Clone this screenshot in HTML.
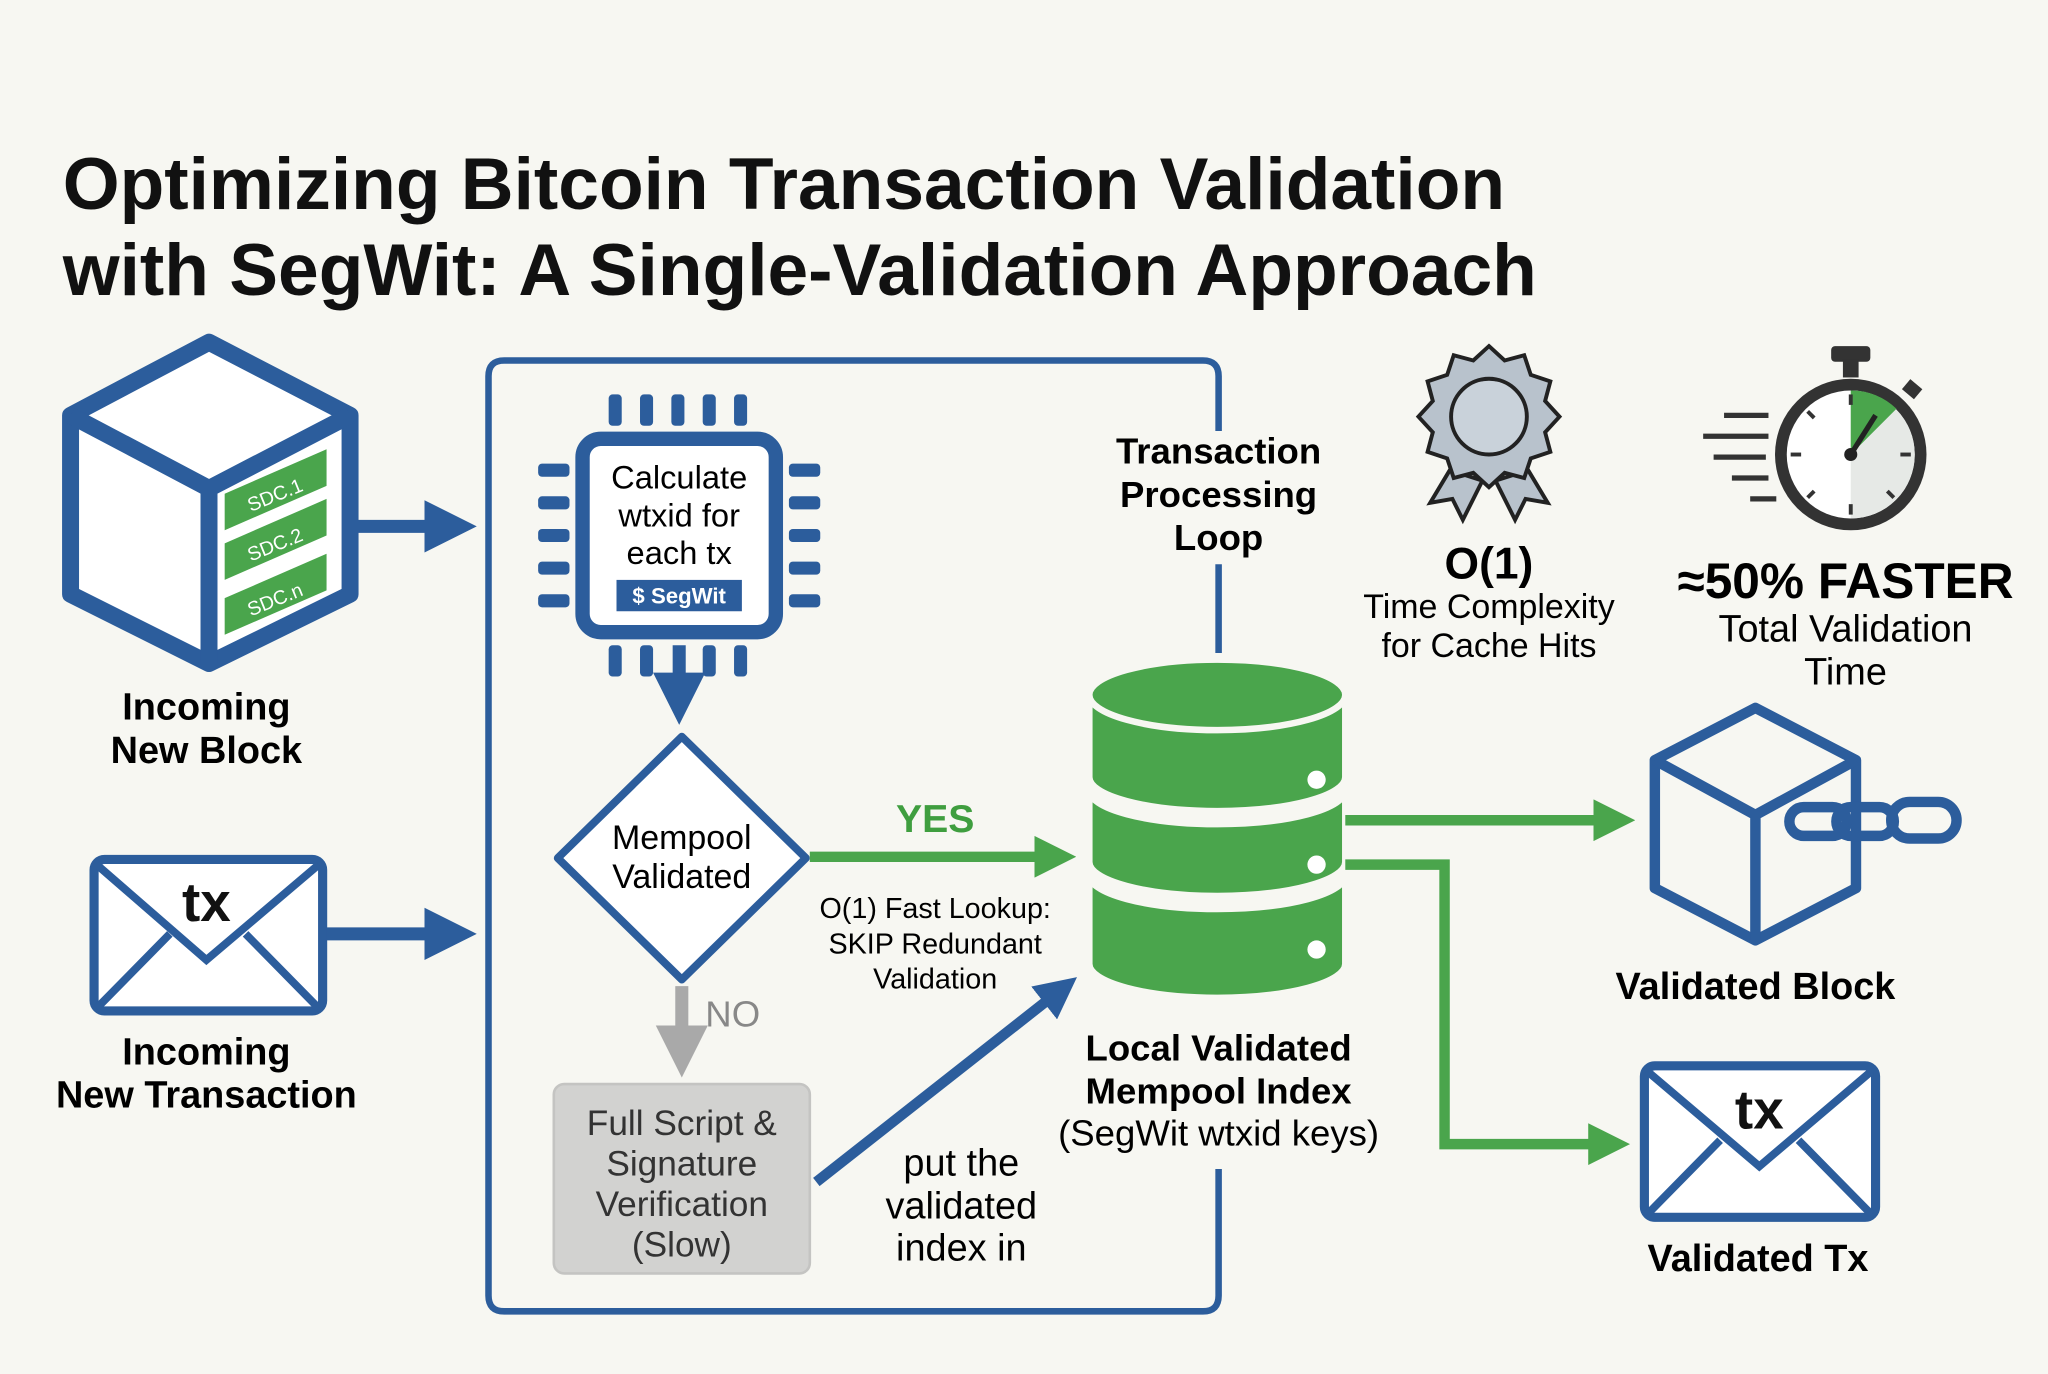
<!DOCTYPE html>
<html><head><meta charset="utf-8"><style>
html,body{margin:0;padding:0;background:#f7f7f2;}
svg{display:block;}
text{font-family:"Liberation Sans",sans-serif;}
</style></head><body>
<svg width="2048" height="1374" viewBox="0 0 1568 1052" xmlns="http://www.w3.org/2000/svg">
<defs>
<marker id="ab" markerWidth="4" markerHeight="4" refX="2" refY="2" orient="auto"><path d="M0,0 L4,2 L0,4 z" fill="#2c5d9c"/></marker>
<marker id="ag" markerWidth="4" markerHeight="4" refX="2" refY="2" orient="auto"><path d="M0,0 L4,2 L0,4 z" fill="#4aa54c"/></marker>
<marker id="ay" markerWidth="4" markerHeight="4" refX="2" refY="2" orient="auto"><path d="M0,0 L4,2 L0,4 z" fill="#a9a9a9"/></marker>
</defs>
<rect width="1568" height="1052" fill="#f7f7f2"/>
<text x="48" y="160" font-size="56" font-weight="bold" fill="#111">Optimizing Bitcoin Transaction Validation</text>
<text x="48" y="226" font-size="56" font-weight="bold" fill="#111">with SegWit: A Single-Validation Approach</text>

<g stroke="#2c5d9c" stroke-width="13" stroke-linejoin="round" fill="#fff">
<path d="M160,262 L268,318 L268,455 L160,508 L54,455 L54,318 Z"/>
<path d="M54,318 L160,374 L268,318 M160,374 L160,508" fill="none"/>
</g>
<g fill="#4aa54c"><path d="M172,378 L250,344 L250,372 L172,406Z"/><path d="M172,416 L250,382 L250,410 L172,444Z"/><path d="M172,458 L250,424 L250,452 L172,486Z"/></g>
<g fill="#fff" font-size="15" font-family="Liberation Serif"><text x="192" y="392" transform="rotate(-22 192 392)">SDC.1</text><text x="192" y="430" transform="rotate(-22 192 430)">SDC.2</text><text x="192" y="472" transform="rotate(-22 192 472)">SDC.n</text></g>
<line x1="272" y1="403" x2="345" y2="403" stroke="#2c5d9c" stroke-width="10" marker-end="url(#ab)"/>
<text x="158" y="551" font-size="29" font-weight="bold" text-anchor="middle">Incoming</text>
<text x="158" y="584" font-size="29" font-weight="bold" text-anchor="middle">New Block</text>

<rect x="72" y="658" width="175" height="116" rx="8" fill="#fff" stroke="#2c5d9c" stroke-width="7"/>
<path d="M74,662 L158,735 L244,662 M74,772 L130,715 M244,772 L188,715" fill="none" stroke="#2c5d9c" stroke-width="6"/>
<text x="158" y="705" font-size="42" font-weight="bold" text-anchor="middle" fill="#111">tx</text>
<line x1="250" y1="715" x2="345" y2="715" stroke="#2c5d9c" stroke-width="10" marker-end="url(#ab)"/>
<text x="158" y="815" font-size="29" font-weight="bold" text-anchor="middle">Incoming</text>
<text x="158" y="848" font-size="29" font-weight="bold" text-anchor="middle">New Transaction</text>

<path d="M933,330 L933,288 Q933,276 921,276 L386,276 Q374,276 374,288 L374,992 Q374,1004 386,1004 L921,1004 Q933,1004 933,992 L933,895 M933,432 L933,500" fill="none" stroke="#2c5d9c" stroke-width="5"/>
<text x="933" y="355" font-size="28" font-weight="bold" text-anchor="middle">Transaction</text>
<text x="933" y="388" font-size="28" font-weight="bold" text-anchor="middle">Processing</text>
<text x="933" y="421" font-size="28" font-weight="bold" text-anchor="middle">Loop</text>

<g fill="#2c5d9c">
<rect x="466" y="302" width="10" height="24" rx="3"/><rect x="490" y="302" width="10" height="24" rx="3"/><rect x="514" y="302" width="10" height="24" rx="3"/><rect x="538" y="302" width="10" height="24" rx="3"/><rect x="562" y="302" width="10" height="24" rx="3"/>
<rect x="466" y="494" width="10" height="24" rx="3"/><rect x="490" y="494" width="10" height="24" rx="3"/><rect x="538" y="494" width="10" height="24" rx="3"/><rect x="562" y="494" width="10" height="24" rx="3"/>
<rect x="412" y="355" width="24" height="10" rx="3"/><rect x="412" y="380" width="24" height="10" rx="3"/><rect x="412" y="405" width="24" height="10" rx="3"/><rect x="412" y="430" width="24" height="10" rx="3"/><rect x="412" y="455" width="24" height="10" rx="3"/>
<rect x="604" y="355" width="24" height="10" rx="3"/><rect x="604" y="380" width="24" height="10" rx="3"/><rect x="604" y="405" width="24" height="10" rx="3"/><rect x="604" y="430" width="24" height="10" rx="3"/><rect x="604" y="455" width="24" height="10" rx="3"/>
</g>
<rect x="446" y="336" width="148" height="148" rx="14" fill="#fff" stroke="#2c5d9c" stroke-width="11"/>
<text x="520" y="374" font-size="25" text-anchor="middle">Calculate</text>
<text x="520" y="403" font-size="25" text-anchor="middle">wtxid for</text>
<text x="520" y="432" font-size="25" text-anchor="middle">each tx</text>
<rect x="472" y="444" width="96" height="24" fill="#2c5d9c"/>
<text x="520" y="462" font-size="17" font-weight="bold" fill="#fff" text-anchor="middle">$ SegWit</text>
<line x1="520" y1="494" x2="520" y2="535" stroke="#2c5d9c" stroke-width="10" marker-end="url(#ab)"/>

<path d="M522,564 L617,657 L522,750 L427,657 Z" fill="#fff" stroke="#2c5d9c" stroke-width="6" stroke-linejoin="round"/>
<text x="522" y="650" font-size="26" text-anchor="middle">Mempool</text>
<text x="522" y="680" font-size="26" text-anchor="middle">Validated</text>
<line x1="620" y1="656" x2="808" y2="656" stroke="#4aa54c" stroke-width="8" marker-end="url(#ag)"/>
<text x="716" y="637" font-size="30" font-weight="bold" fill="#3f9e3f" text-anchor="middle">YES</text>
<text x="716" y="703" font-size="22" text-anchor="middle">O(1) Fast Lookup:</text>
<text x="716" y="730" font-size="22" text-anchor="middle">SKIP Redundant</text>
<text x="716" y="757" font-size="22" text-anchor="middle">Validation</text>
<line x1="522" y1="755" x2="522" y2="805" stroke="#a9a9a9" stroke-width="10" marker-end="url(#ay)"/>
<text x="540" y="786" font-size="28" fill="#888">NO</text>
<rect x="424" y="830" width="196" height="145" rx="8" fill="#d2d2d0" stroke="#c4c4c2" stroke-width="2"/>
<text x="522" y="869" font-size="27" fill="#333" text-anchor="middle">Full Script &amp;</text>
<text x="522" y="900" font-size="27" fill="#333" text-anchor="middle">Signature</text>
<text x="522" y="931" font-size="27" fill="#333" text-anchor="middle">Verification</text>
<text x="522" y="962" font-size="27" fill="#333" text-anchor="middle">(Slow)</text>
<line x1="625" y1="905" x2="812" y2="758" stroke="#2c5d9c" stroke-width="8" marker-end="url(#ab)"/>
<text x="736" y="900" font-size="29" text-anchor="middle">put the</text>
<text x="736" y="933" font-size="29" text-anchor="middle">validated</text>
<text x="736" y="965" font-size="29" text-anchor="middle">index in</text>

<g fill="#4aa54c" stroke="#f7f7f2" stroke-width="5">
<path d="M834,670 L834,738 A98,26 0 0 0 1030,738 L1030,670 A98,26 0 0 1 834,670Z"/>
<path d="M834,605 L834,660 A98,26 0 0 0 1030,660 L1030,605 A98,26 0 0 1 834,605Z"/>
<path d="M834,532 L834,595 A98,26 0 0 0 1030,595 L1030,532Z"/>
<ellipse cx="932" cy="532" rx="98" ry="27"/>
</g>
<circle cx="1008" cy="597" r="7" fill="#fff"/><circle cx="1008" cy="662" r="7" fill="#fff"/><circle cx="1008" cy="727" r="7" fill="#fff"/>
<text x="933" y="812" font-size="28" font-weight="bold" text-anchor="middle">Local Validated</text>
<text x="933" y="845" font-size="28" font-weight="bold" text-anchor="middle">Mempool Index</text>
<text x="933" y="877" font-size="28" text-anchor="middle">(SegWit wtxid keys)</text>

<path d="M1110,360 L1095,385 L1112,382 L1120,398 L1135,368Z M1170,360 L1185,385 L1168,382 L1160,398 L1145,368Z" fill="#b8c2cc" stroke="#222" stroke-width="3"/>
<path d="M1140,265 L1152,276 L1167,272 L1172,287 L1187,292 L1183,307 L1194,319 L1183,331 L1187,346 L1172,351 L1167,366 L1152,362 L1140,373 L1128,362 L1113,366 L1108,351 L1093,346 L1097,331 L1086,319 L1097,307 L1093,292 L1108,287 L1113,272 L1128,276Z" fill="#b8c2cc" stroke="#222" stroke-width="3"/>
<circle cx="1140" cy="319" r="29" fill="#c9d2da" stroke="#222" stroke-width="3"/>
<text x="1140" y="443" font-size="34" font-weight="bold" text-anchor="middle">O(1)</text>
<text x="1140" y="473" font-size="26" text-anchor="middle">Time Complexity</text>
<text x="1140" y="503" font-size="26" text-anchor="middle">for Cache Hits</text>

<rect x="1402" y="265" width="30" height="12" rx="3" fill="#333"/><rect x="1411" y="275" width="12" height="14" fill="#333"/>
<rect x="1458" y="293" width="12" height="10" fill="#333" transform="rotate(40 1464 298)"/>
<circle cx="1417" cy="348" r="58" fill="#333"/>
<circle cx="1417" cy="348" r="49" fill="#fff"/>
<path d="M1417,348 L1417,299 A49,49 0 0 1 1466,348 A49,49 0 0 1 1417,397Z" fill="#e6e9e6"/>
<path d="M1417,348 L1417,299 A49,49 0 0 1 1452,313 Z" fill="#4aa54c"/>
<g stroke="#333" stroke-width="3"><line x1="1417" y1="302" x2="1417" y2="310"/><line x1="1417" y1="386" x2="1417" y2="394"/><line x1="1371" y1="348" x2="1379" y2="348"/><line x1="1455" y1="348" x2="1463" y2="348"/><line x1="1384" y1="315" x2="1389" y2="320"/><line x1="1384" y1="381" x2="1389" y2="376"/><line x1="1450" y1="381" x2="1445" y2="376"/></g>
<line x1="1417" y1="348" x2="1436" y2="318" stroke="#222" stroke-width="4"/>
<circle cx="1417" cy="348" r="5" fill="#222"/>
<g stroke="#333" stroke-width="4"><line x1="1320" y1="318" x2="1354" y2="318"/><line x1="1304" y1="334" x2="1354" y2="334"/><line x1="1312" y1="350" x2="1352" y2="350"/><line x1="1326" y1="366" x2="1354" y2="366"/><line x1="1340" y1="382" x2="1360" y2="382"/></g>
<text x="1413" y="458" font-size="38" font-weight="bold" text-anchor="middle">≈50% FASTER</text>
<text x="1413" y="491" font-size="29" text-anchor="middle">Total Validation</text>
<text x="1413" y="524" font-size="29" text-anchor="middle">Time</text>

<line x1="1030" y1="628" x2="1236" y2="628" stroke="#4aa54c" stroke-width="8" marker-end="url(#ag)"/>
<path d="M1030,662 L1106,662 L1106,876 L1232,876" fill="none" stroke="#4aa54c" stroke-width="8" marker-end="url(#ag)"/>

<g stroke="#2c5d9c" stroke-width="8" stroke-linejoin="round" fill="none">
<path d="M1344,542 L1421,582 L1421,680 L1344,720 L1267,680 L1267,582 Z"/>
<path d="M1267,582 L1344,624 L1421,582 M1344,624 L1344,720"/>
</g>
<g stroke="#2c5d9c" stroke-width="8" fill="none">
<rect x="1370" y="618" width="44" height="22" rx="11"/><rect x="1406" y="618" width="44" height="22" rx="11"/><rect x="1448" y="614" width="50" height="28" rx="14"/>
</g>
<text x="1344" y="765" font-size="29" font-weight="bold" text-anchor="middle">Validated Block</text>

<rect x="1259" y="816" width="177" height="116" rx="8" fill="#fff" stroke="#2c5d9c" stroke-width="7"/>
<path d="M1261,820 L1347,893 L1433,820 M1261,930 L1317,873 M1433,930 L1377,873" fill="none" stroke="#2c5d9c" stroke-width="6"/>
<text x="1347" y="864" font-size="42" font-weight="bold" text-anchor="middle" fill="#111">tx</text>
<text x="1346" y="973" font-size="29" font-weight="bold" text-anchor="middle">Validated Tx</text>
</svg>
</body></html>
